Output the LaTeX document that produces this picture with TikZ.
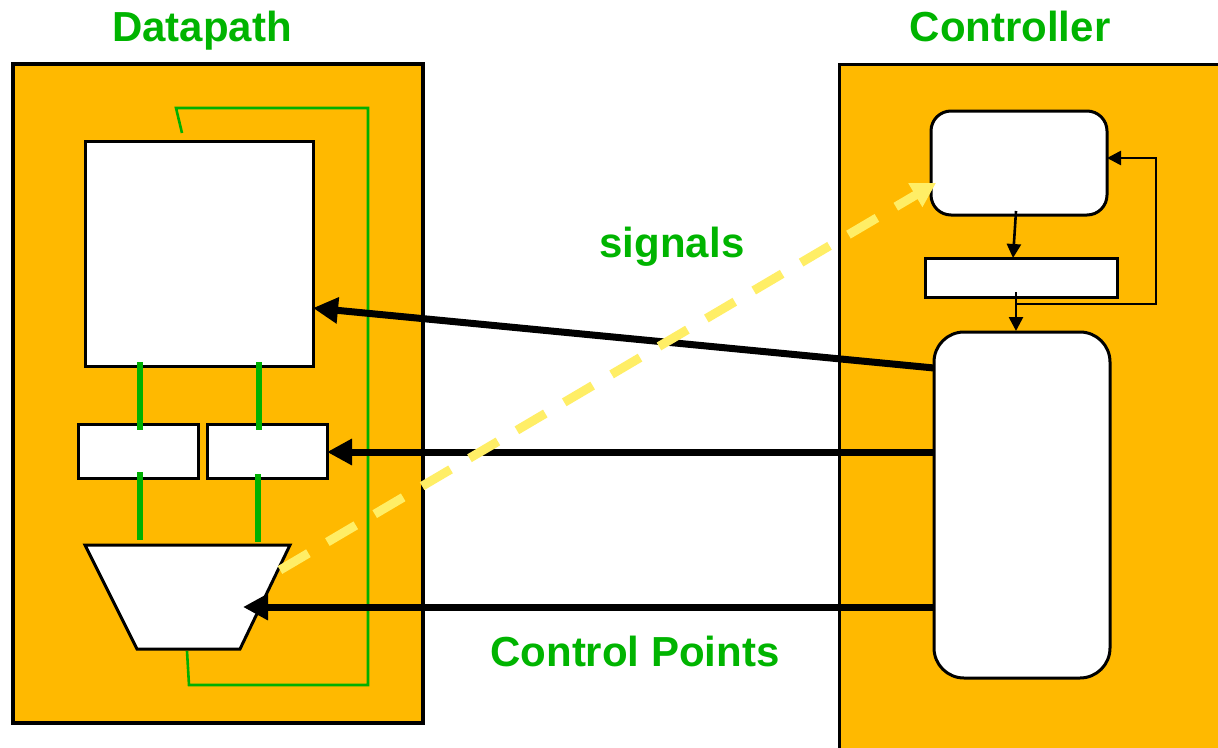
\documentclass[tikz,border=0pt]{standalone}
\usepackage{fontspec}
\setmainfont{Liberation Sans}
\usetikzlibrary{arrows.meta,calc}
\definecolor{panel}{HTML}{FFB900}
\definecolor{wire}{HTML}{00B000}
\definecolor{sig}{HTML}{FFEE66}
\definecolor{title}{HTML}{00B400}
\begin{document}
\begin{tikzpicture}[x=1pt,y=-1pt,
  box/.style={draw=black,line width=3pt,fill=white,inner sep=0pt,outer sep=0pt},
  rbox/.style={box,rounded corners=#1},
  thickarrow/.style={line width=7pt,-{Triangle[length=25pt,width=25pt]}},
  thinarrow/.style={line width=2.6pt,-{Triangle[length=14pt,width=14pt]}},
  bus/.style={wire,line width=6.5pt},
  thinwire/.style={wire,line width=2.6pt},
  lbl/.style={title,font=\bfseries\fontsize{42}{50}\selectfont,anchor=base,inner sep=0pt}
]
\useasboundingbox (0,0) rectangle (1218,747);
\clip (0,0) rectangle (1218,747);
\fill[white] (0,0) rectangle (1218,747);

% panels
\node[draw=black,line width=3.2pt,fill=panel,minimum width=410pt,minimum height=659pt,inner sep=0pt] (dp) at (218,393.5) {};
\node[draw=black,line width=3pt,fill=panel,minimum width=400pt,minimum height=700pt,inner sep=0pt] (ctl) at (1039,414) {};

% titles
\node[lbl] (tdp) at (202,41) {Datapath};
\node[lbl] (tctl) at (1010,41) {Controller};

% datapath parts
\node[box,minimum width=228pt,minimum height=225pt] (rf) at (199,253.5) {};
\node[box,minimum width=120pt,minimum height=54pt] (ra) at (138,451) {};
\node[box,minimum width=120pt,minimum height=54pt] (rb) at (267,451) {};
\coordinate (aluTL) at (85,545);
\coordinate (aluTR) at (290,545);
\coordinate (aluBR) at (240,649);
\coordinate (aluBL) at (137,649);
\draw[box,line join=miter] (aluTL) -- (aluTR) -- (aluBR) -- (aluBL) -- cycle;
\coordinate (aluIn) at (243,607);
\coordinate (aluOut) at (280,570);

% thin feedback wire
\coordinate (w1) at (187,651);
\coordinate (w2) at (189,685);
\coordinate (w3) at (368,685);
\coordinate (w4) at (368,108);
\coordinate (w5) at (176,108);
\coordinate (w6) at (182,133);
\draw[thinwire] (w1) -- (w2) -- (w3) -- (w4) -- (w5) -- (w6);

% buses
\draw[bus] ($(ra.north |- rf.south)+(2,-4)$) -- ($(ra.north)+(2,6)$);
\draw[bus] ($(rb.north |- rf.south)+(-8,-4)$) -- ($(rb.north)+(-8,6)$);
\draw[bus] ($(ra.south)+(2,-6)$) -- ($(ra.south |- aluTL)+(2,-5)$);
\draw[bus] ($(rb.south)+(-9,-4)$) -- ($(rb.south |- aluTL)+(-9,-3)$);

% controller parts
\node[rbox=20pt,minimum width=176pt,minimum height=104pt] (cs) at (1019,163) {};
\node[box,minimum width=192pt,minimum height=39pt] (sr) at (1021,277.5) {};
\node[rbox=30pt,minimum width=176pt,minimum height=346pt] (cu) at (1022,505) {};

\draw[thinarrow] ($(cs.south)+(-3,-4)$) -- ($(sr.north)+(-8,0)$);
\draw[thinarrow] ($(sr.south)+(-5,-5)$) -- ($(cu.north)+(-6,-1)$);
\coordinate (fb) at (1016,304);
\coordinate (fbR) at (1156,304);
\coordinate (fbT) at (1156,158);
\draw[thinarrow] (fb) -- (fbR) -- (fbT) -- ($(cs.east)+(0,-5)$);

% control points
\draw[thickarrow] ($(cu.west)+(0,-137)$) -- ($(rf.east)+(0,54.5)$);
\draw[thickarrow] ($(cu.west)+(0,-53)$) -- ($(rb.east)+(0,1)$);
\draw[thickarrow] ($(cu.west)+(0,102)$) -- (aluIn);

% signals
\draw[sig,line width=9pt,dash pattern=on 33pt off 22pt,-{Triangle[length=24pt,width=26pt]}] (aluOut) -- ($(cs.west)+(5,20)$);

\node[lbl] (tsig) at (672,257) {signals};
\node[lbl] (tcp) at (635,666) {Control Points};
\end{tikzpicture}
\end{document}
